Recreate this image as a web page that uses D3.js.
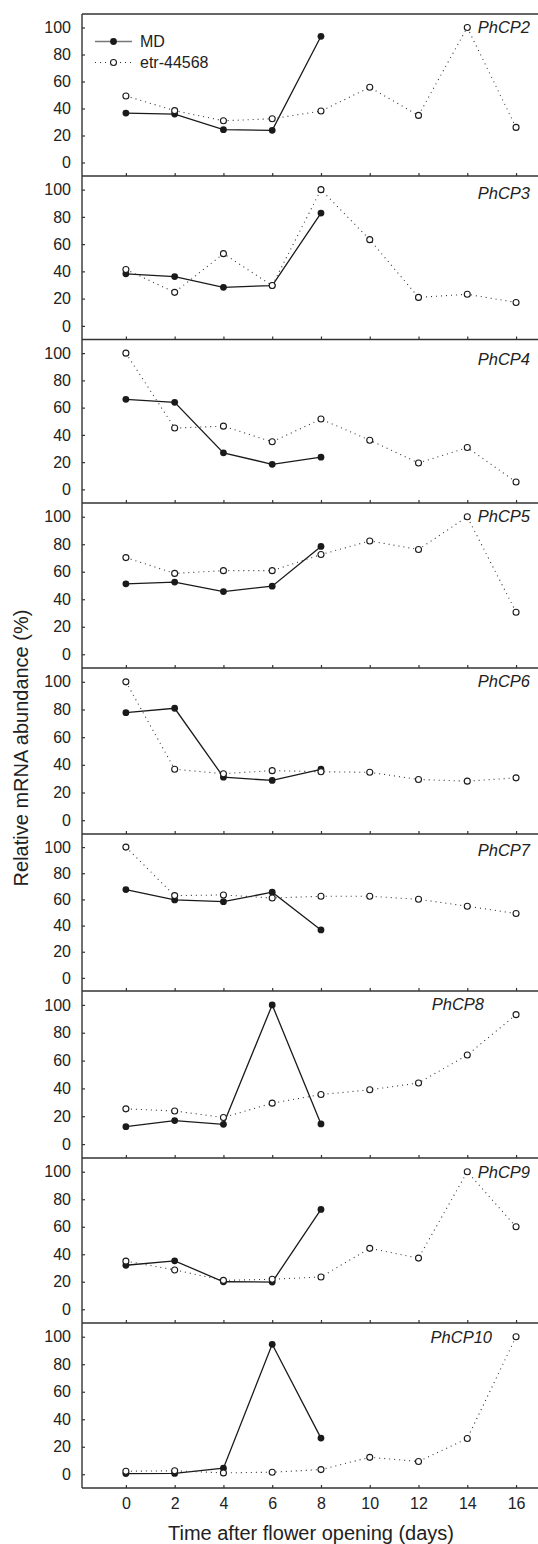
<!DOCTYPE html>
<html>
<head>
<meta charset="utf-8">
<script src="https://cdn.jsdelivr.net/npm/d3@7"></script>
<style>
  html, body { margin: 0; padding: 0; background: #fff; }
  svg { display: block; font-family: "Liberation Sans", Arial, sans-serif; }
</style>
</head>
<body>
<svg id="chart" width="538" height="1544"></svg>
<script>
// Sampling days after flower opening
const days = [0, 2, 4, 6, 8, 10, 12, 14, 16];
const mdDays = [0, 2, 4, 6, 8];

// Genes, one panel each
const genes = ["PhCP2", "PhCP3", "PhCP4", "PhCP5", "PhCP6", "PhCP7", "PhCP8", "PhCP9", "PhCP10"];

// Relative mRNA abundance (%) — MD (wild type), days 0–8
const mdValues = [
  [36.6, 35.9, 24.3, 23.8, 93.5],
  [38.2, 36.2, 28.3, 29.6, 82.8],
  [66.1, 63.9, 26.8, 18.4, 23.6],
  [51.2, 52.5, 45.6, 49.5, 78.4],
  [77.7, 80.9, 31.1, 28.7, 36.8],
  [67.5, 59.6, 58.3, 65.5, 36.7],
  [12.5, 16.9, 14.2, 100, 14.5],
  [32.0, 35.2, 20.0, 19.8, 72.6],
  [0.5, 0.6, 4.4, 94.5, 26.3]
];

// Relative mRNA abundance (%) — etr-44568, days 0–16
const etrValues = [
  [49.3, 38.4, 30.9, 32.4, 38.1, 55.7, 34.9, 100, 26.0],
  [41.4, 24.6, 53.0, 29.6, 100, 63.3, 20.9, 23.2, 17.2],
  [100, 45.0, 46.4, 34.9, 51.6, 36.1, 19.4, 30.7, 5.4],
  [70.3, 58.8, 60.8, 60.8, 72.5, 82.4, 76.2, 100, 30.6],
  [100, 36.8, 33.6, 35.8, 35.0, 34.6, 29.4, 28.2, 30.6],
  [100, 62.9, 63.4, 61.1, 62.4, 62.4, 60.1, 54.8, 49.2],
  [25.3, 23.8, 19.1, 29.4, 35.6, 39.0, 43.9, 64.0, 93.0],
  [35.0, 28.6, 21.0, 21.8, 23.5, 44.3, 37.2, 100, 60.0],
  [2.2, 2.5, 1.0, 1.5, 3.4, 12.3, 9.3, 26.0, 100]
];

const yTicks = [0, 20, 40, 60, 80, 100];
const seriesNames = ["MD", "etr-44568"];

// ---- layout ----
const svg = d3.select("#chart");
const left = 82, right = 538;
const panelEdges = [14, 176, 339.5, 503, 668, 834, 991, 1158, 1323, 1488];
const geneLabelX = [530, 530, 530, 530, 530, 530, 484, 530, 492];
const geneLabelDy = [5, 9, 12, 5, 5, 9, 5, 6, 6];

const axisColor = "#333";
const lineColor = "#1a1a1a";

const x = d3.scaleLinear().domain([-1.8, 16.9]).range([left, right]);

// left axis spine through all panels, and top border
svg.append("line")
  .attr("x1", left).attr("x2", left)
  .attr("y1", panelEdges[0]).attr("y2", panelEdges[panelEdges.length - 1])
  .attr("stroke", axisColor).attr("stroke-width", 1.4);
svg.append("line")
  .attr("x1", left).attr("x2", right)
  .attr("y1", panelEdges[0]).attr("y2", panelEdges[0])
  .attr("stroke", axisColor).attr("stroke-width", 1.4);

genes.forEach((gene, i) => {
  const top = panelEdges[i], bottom = panelEdges[i + 1];
  const y = d3.scaleLinear().domain([-10, 110]).range([bottom, top]);
  const g = svg.append("g");

  // y axis: ticks point inward
  const yAxis = d3.axisLeft(y).tickValues(yTicks).tickSize(-3).tickPadding(11)
    .tickFormat(d3.format("d"));
  const ya = g.append("g").attr("transform", `translate(${left},0)`).call(yAxis);
  ya.select(".domain").remove();
  ya.selectAll("line").attr("stroke", axisColor).attr("stroke-width", 1.2);
  ya.selectAll("text").attr("fill", "#222").attr("font-size", 16);

  // x axis line at the panel bottom with inward ticks
  const xAxis = d3.axisBottom(x).tickValues(days).tickSize(-3)
    .tickFormat(i === genes.length - 1 ? d3.format("d") : "");
  const xa = g.append("g").attr("transform", `translate(0,${bottom})`).call(xAxis);
  xa.select(".domain").attr("d", `M${left},0H${right}`)
    .attr("stroke", axisColor).attr("stroke-width", 1.4);
  xa.selectAll("line").attr("stroke", axisColor).attr("stroke-width", 1.2);
  xa.selectAll("text").attr("fill", "#222").attr("font-size", 16).attr("dy", "1.1em");

  // MD: solid line, filled markers
  const mdPts = mdDays.map((d, k) => [d, mdValues[i][k]]);
  const line = d3.line().x(d => x(d[0])).y(d => y(d[1]));
  g.append("path").datum(mdPts).attr("d", line)
    .attr("fill", "none").attr("stroke", lineColor).attr("stroke-width", 1.3);
  g.selectAll("circle.md").data(mdPts).join("circle").attr("class", "md")
    .attr("cx", d => x(d[0])).attr("cy", d => y(d[1])).attr("r", 3.4)
    .attr("fill", lineColor);

  // etr-44568: dotted line, open markers
  const etrPts = days.map((d, k) => [d, etrValues[i][k]]);
  g.append("path").datum(etrPts).attr("d", line)
    .attr("fill", "none").attr("stroke", "#333").attr("stroke-width", 1.1)
    .attr("stroke-dasharray", "1,4");
  g.selectAll("circle.etr").data(etrPts).join("circle").attr("class", "etr")
    .attr("cx", d => x(d[0])).attr("cy", d => y(d[1])).attr("r", 3)
    .attr("fill", "#fff").attr("stroke", lineColor).attr("stroke-width", 1.1);

  // gene label
  g.append("text")
    .attr("x", geneLabelX[i]).attr("y", y(100) + geneLabelDy[i])
    .attr("text-anchor", "end").attr("font-style", "italic")
    .attr("font-size", 16.5).attr("fill", "#222")
    .text(gene);

  // legend in the first panel
  if (i === 0) {
    const lg = g.append("g");
    const rows = [{ name: seriesNames[0], yy: 41.5, solid: true },
                  { name: seriesNames[1], yy: 62.5, solid: false }];
    rows.forEach(r => {
      lg.append("line").attr("x1", 95).attr("x2", 132).attr("y1", r.yy).attr("y2", r.yy)
        .attr("stroke", r.solid ? "#777" : "#333")
        .attr("stroke-width", r.solid ? 1.6 : 1.1)
        .attr("stroke-dasharray", r.solid ? null : "1,4");
      lg.append("circle").attr("cx", 113.5).attr("cy", r.yy).attr("r", r.solid ? 3.4 : 3)
        .attr("fill", r.solid ? lineColor : "#fff")
        .attr("stroke", lineColor).attr("stroke-width", r.solid ? 0 : 1.1);
      lg.append("text").attr("x", 140).attr("y", r.yy + 5.5)
        .attr("font-size", 16).attr("fill", "#222").text(r.name);
    });
  }
});

// axis titles
svg.append("text")
  .attr("x", 311).attr("y", 1540)
  .attr("text-anchor", "middle").attr("font-size", 20).attr("fill", "#222")
  .text("Time after flower opening (days)");
svg.append("text")
  .attr("transform", "translate(27.5,748) rotate(-90)")
  .attr("text-anchor", "middle").attr("font-size", 20).attr("fill", "#222")
  .text("Relative mRNA abundance (%)");
</script>
</body>
</html>
